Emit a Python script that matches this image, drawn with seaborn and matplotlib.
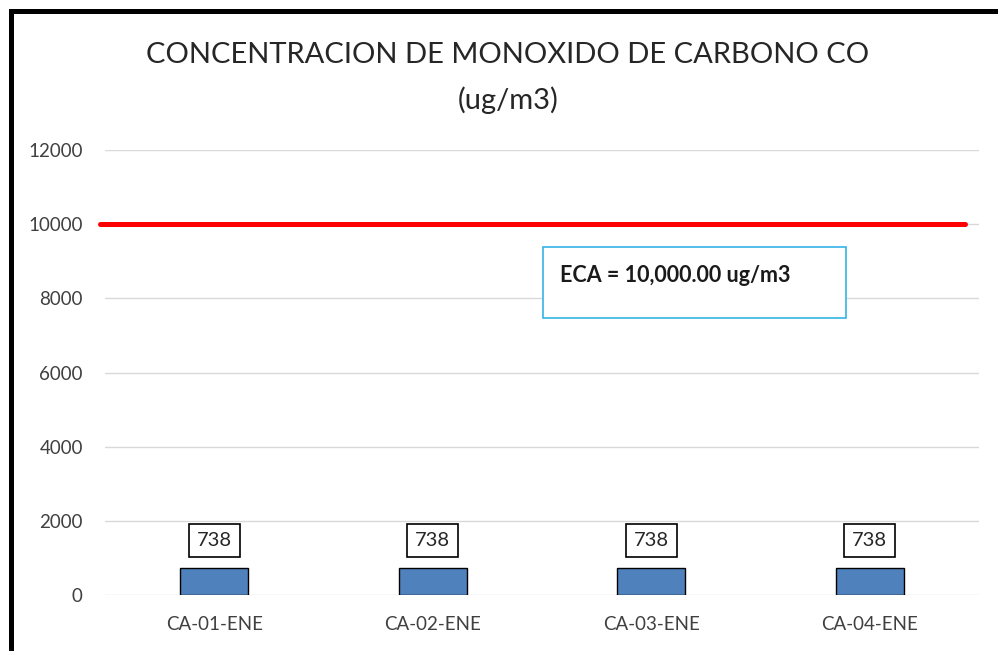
import matplotlib
matplotlib.use("Agg")
import matplotlib.pyplot as plt
import seaborn as sns
from matplotlib.lines import Line2D
from matplotlib.patches import Rectangle

# data
sites = ["CA-01-ENE", "CA-02-ENE", "CA-03-ENE", "CA-04-ENE"]
co_values = [738, 738, 738, 738]
eca_limit = 10000
y_ticks = [0, 2000, 4000, 6000, 8000, 10000, 12000]
title_lines = ["CONCENTRACION DE MONOXIDO DE CARBONO CO", "(ug/m3)"]
eca_text = "ECA = 10,000.00 ug/m3"

W, H = 998, 651
sns.set_theme(style="whitegrid")
plt.rcParams['font.family'] = ['Lato', 'DejaVu Sans']

fig = plt.figure(figsize=(W / 100, H / 100), dpi=100)
fig.patch.set_facecolor("white")
ax = fig.add_axes([105 / W, (H - 595) / H, 874 / W, 445 / H])

sns.barplot(x=sites, y=co_values, color="#4f81bd", width=0.31, edgecolor="black",
            linewidth=1, saturation=1, ax=ax)

ax.set_ylim(0, 12000)
ax.set_xlim(-0.5, 3.5)
ax.set_yticks(y_ticks)
ax.grid(axis="y", color="#d9d9d9", lw=1)
ax.grid(axis="x", visible=False)
ax.set_axisbelow(True)
for s in ax.spines.values():
    s.set_visible(False)
ax.tick_params(axis="both", length=0, labelsize=13.5, labelcolor="#404040")
ax.tick_params(axis="y", pad=16)
ax.tick_params(axis="x", pad=15)
ax.set_xlabel("")
ax.set_ylabel("")

# limit line
ax.axhline(eca_limit, xmin=-5 / 874, xmax=860 / 874, color="red", lw=3.6,
           clip_on=False, zorder=3)

# data labels
for i, v in enumerate(co_values):
    ax.text(i, v + 727, str(v), ha="center", va="center", fontsize=14.5, color="#262626",
            bbox=dict(boxstyle="square,pad=0.4", fc="white", ec="black", lw=1.2))

# ECA box
fig.add_artist(Rectangle((543 / W, 1 - 318 / H), 303 / W, 71 / H, transform=fig.transFigure,
                         fc="white", ec="#33b5e8", lw=1.2))
fig.text(560 / W, 1 - 275 / H, eca_text, fontsize=15.5, fontweight="bold",
         ha="left", va="center", color="#1a1a1a")

# title
fig.text(508 / W, 1 - 55 / H, title_lines[0], ha="center", va="center",
         fontsize=21, color="#262626")
fig.text(508 / W, 1 - 100 / H, title_lines[1], ha="center", va="center",
         fontsize=21, color="#262626")

# black frame top/left
fig.add_artist(Line2D([10.5 / W, 10.5 / W, 1.01], [-0.01, 1 - 10.5 / H, 1 - 10.5 / H],
                      transform=fig.transFigure, color="black", lw=3.6,
                      solid_joinstyle="miter"))

fig.savefig("out.png", dpi=100)
